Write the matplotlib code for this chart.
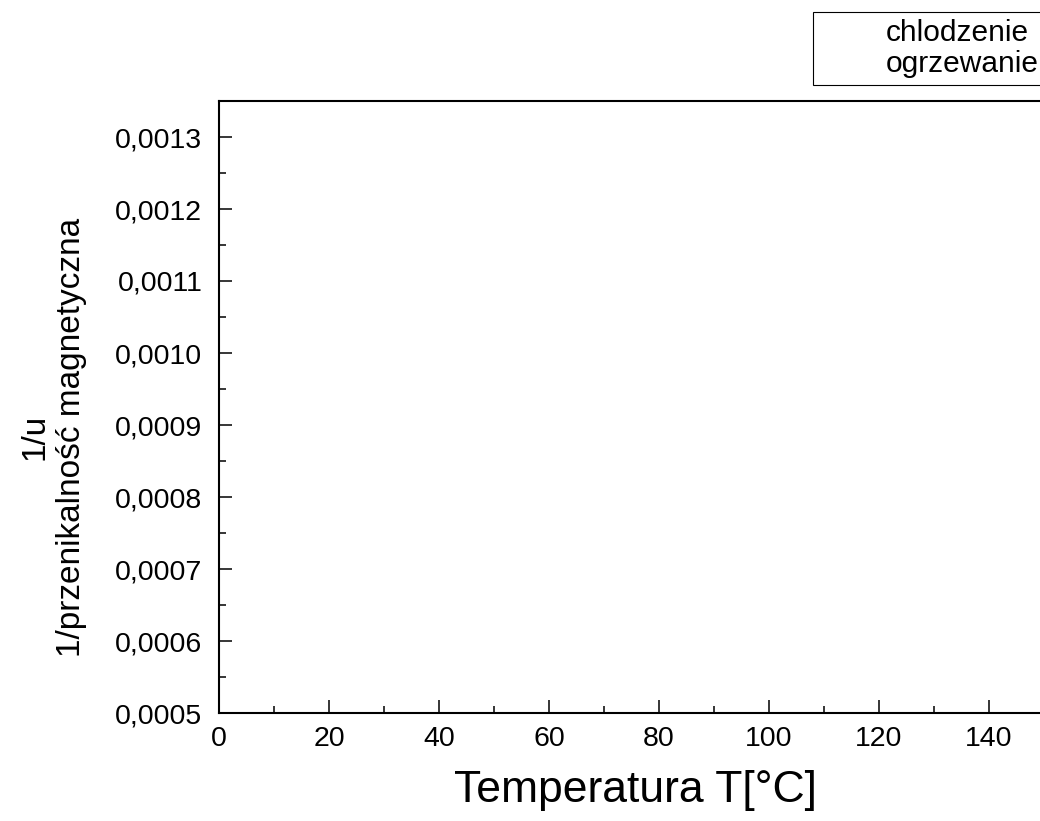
import matplotlib
matplotlib.use("Agg")
import matplotlib.pyplot as plt
from matplotlib.ticker import MultipleLocator, FixedLocator, FixedFormatter

plt.rcParams['font.family'] = ['Liberation Sans', 'DejaVu Sans']

# Data (no points are visible in the reference chart)
series_names = ["chlodzenie", "ogrzewanie"]
temp_chlodzenie = []
inv_mu_chlodzenie = []
temp_ogrzewanie = []
inv_mu_ogrzewanie = []

xticks = [0, 20, 40, 60, 80, 100, 120, 140]
yticks = [0.0005, 0.0006, 0.0007, 0.0008, 0.0009, 0.0010, 0.0011, 0.0012, 0.0013]
ytick_labels = ["0,0005", "0,0006", "0,0007", "0,0008", "0,0009",
                "0,0010", "0,0011", "0,0012", "0,0013"]

x_label = "Temperatura T[°C]"
y_label = "1/u\n1/przenikalność magnetyczna"

fig = plt.figure(figsize=(10.4, 8.21), dpi=100)
W, H = 1040, 821
ax = fig.add_axes([219 / W, (H - 713) / H, (1044 - 219) / W, (713 - 101) / H])

ax.plot(temp_chlodzenie, inv_mu_chlodzenie, ls='none', label=series_names[0])
ax.plot(temp_ogrzewanie, inv_mu_ogrzewanie, ls='none', label=series_names[1])

ax.set_xlim(0, 150)
ax.set_ylim(0.0005, 0.00135)

ax.xaxis.set_major_locator(FixedLocator(xticks))
ax.xaxis.set_minor_locator(MultipleLocator(10))
ax.yaxis.set_major_locator(FixedLocator(yticks))
ax.yaxis.set_major_formatter(FixedFormatter(ytick_labels))
ax.yaxis.set_minor_locator(MultipleLocator(0.00005))

for s in ax.spines.values():
    s.set_linewidth(1.5)

ax.tick_params(which='major', direction='in', length=9.2, width=1.1,
               labelsize=20.5, top=False, right=False)
ax.tick_params(which='minor', direction='in', length=4.8, width=1.1,
               top=False, right=False)
ax.tick_params(axis='x', which='major', pad=9.5)
ax.tick_params(axis='y', which='major', pad=12)

ax.set_xlabel(x_label, fontsize=32)
ax.xaxis.set_label_coords((635 - 219) / (1044 - 219), -(790 - 713) / (713 - 101))
ax.xaxis.label.set_va('center')

ax.set_ylabel(y_label, fontsize=24, linespacing=1.25)
ax.yaxis.set_label_coords(-(219 - 53) / (1044 - 219), (713 - 437) / (713 - 101))
ax.yaxis.label.set_va('center')

leg = ax.legend(loc='upper left', bbox_to_anchor=(813 / W, 1 - 12 / H),
                bbox_transform=fig.transFigure, fontsize=21.5, frameon=True,
                fancybox=False, shadow=False, borderpad=0.22, labelspacing=0.12,
                handlelength=1.5, handletextpad=0.72, borderaxespad=0)
leg.get_frame().set_edgecolor('black')
leg.get_frame().set_linewidth(0.8)
leg.get_frame().set_alpha(None)
leg.get_frame().set_facecolor('white')

fig.savefig("out.png", dpi=100)
